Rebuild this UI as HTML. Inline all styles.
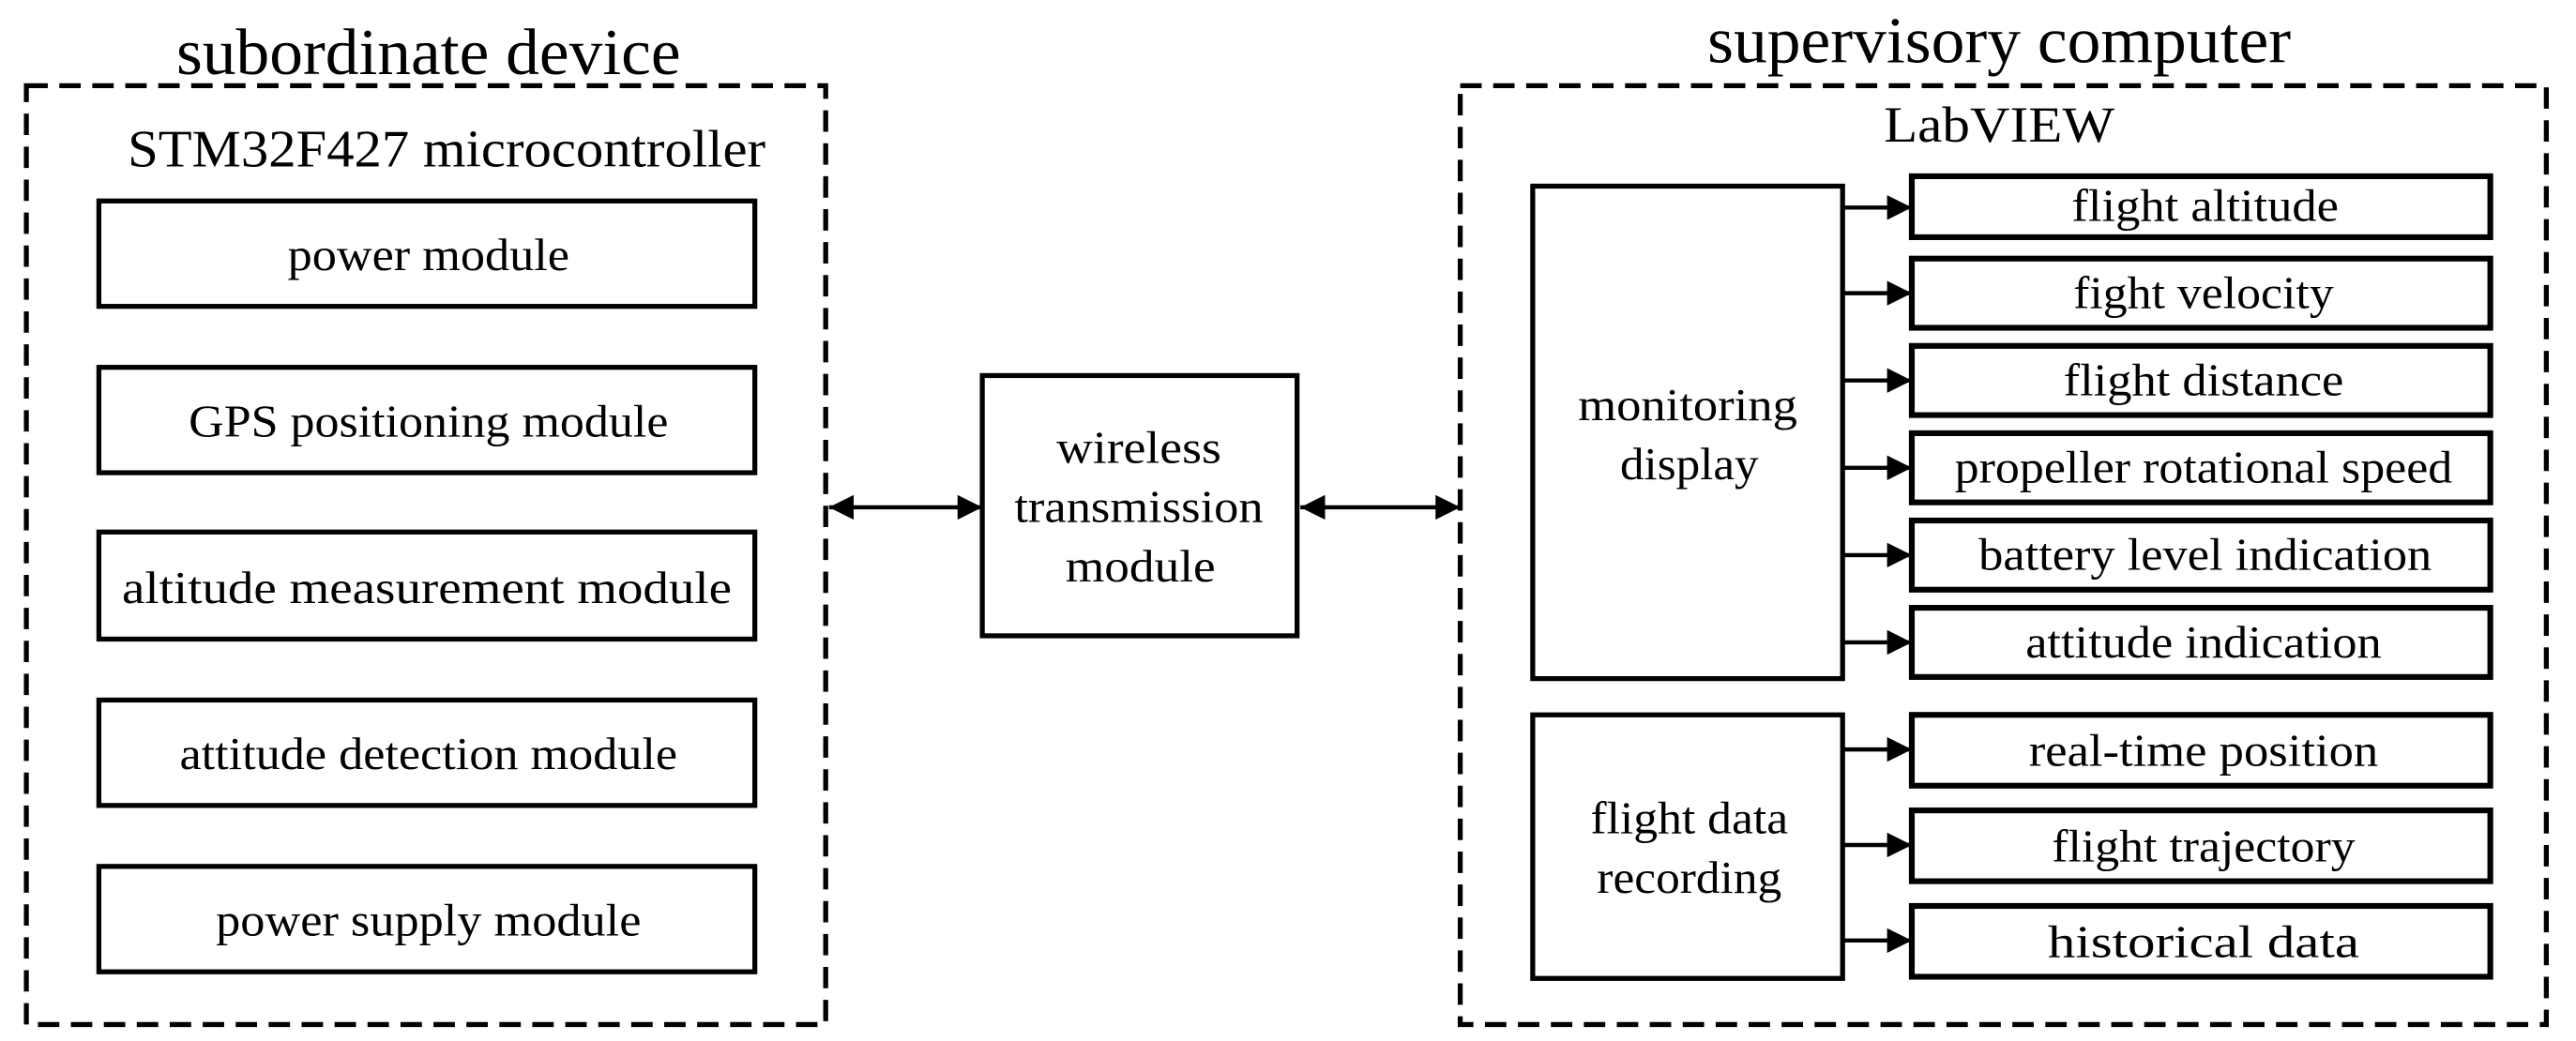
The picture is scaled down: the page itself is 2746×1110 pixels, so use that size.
<!DOCTYPE html>
<html><head><meta charset="utf-8"><style>html,body{margin:0;padding:0;background:#fff}svg{display:block}</style></head>
<body>
<svg width="2746" height="1110" viewBox="0 0 1563 632" preserveAspectRatio="none" xmlns="http://www.w3.org/2000/svg" font-family="Liberation Serif, serif" fill="none" stroke="#000">
<defs>
<marker id="a" markerWidth="6" markerHeight="6" refX="6" refY="3" orient="auto" markerUnits="strokeWidth"><path d="M0,0 L6,3 L0,6 z" fill="#000" stroke="none"/></marker>
<marker id="b" markerWidth="6" markerHeight="6" refX="0" refY="3" orient="auto" markerUnits="strokeWidth"><path d="M6,0 L0,3 L6,6 z" fill="#000" stroke="none"/></marker>
</defs>
<g stroke-width="3" stroke-dasharray="13,7">
<rect x="16" y="52" width="485" height="570"/>
<rect x="886" y="52" width="659" height="570"/>
</g>
<g stroke-width="3">
<rect x="60" y="122" width="398" height="64"/>
<rect x="60" y="223" width="398" height="64"/>
<rect x="60" y="323" width="398" height="65"/>
<rect x="60" y="425" width="398" height="64"/>
<rect x="60" y="526" width="398" height="64"/>
<rect x="596" y="228" width="191" height="158"/>
<rect x="930" y="113" width="188" height="299"/>
<rect x="930" y="434" width="188" height="160"/>
</g>
<g stroke-width="3.5">
<rect x="1160" y="107" width="351" height="37"/>
<rect x="1160" y="157" width="351" height="42"/>
<rect x="1160" y="210" width="351" height="42"/>
<rect x="1160" y="263" width="351" height="42"/>
<rect x="1160" y="316" width="351" height="42"/>
<rect x="1160" y="369" width="351" height="42"/>
<rect x="1160" y="434" width="351" height="43"/>
<rect x="1160" y="492" width="351" height="43"/>
<rect x="1160" y="550" width="351" height="43"/>
</g>
<g stroke-width="2.5" marker-end="url(#a)">
<line x1="503" y1="308" x2="596" y2="308" marker-start="url(#b)"/>
<line x1="789" y1="308" x2="886" y2="308" marker-start="url(#b)"/>
<line x1="1118" y1="126" x2="1160" y2="126"/>
<line x1="1118" y1="178" x2="1160" y2="178"/>
<line x1="1118" y1="231" x2="1160" y2="231"/>
<line x1="1118" y1="284" x2="1160" y2="284"/>
<line x1="1118" y1="337" x2="1160" y2="337"/>
<line x1="1118" y1="390" x2="1160" y2="390"/>
<line x1="1118" y1="455" x2="1160" y2="455"/>
<line x1="1118" y1="513" x2="1160" y2="513"/>
<line x1="1118" y1="571" x2="1160" y2="571"/>
</g>
<g fill="#000" stroke="none" text-anchor="middle">
<text x="260" y="45" font-size="40" textLength="306" lengthAdjust="spacingAndGlyphs">subordinate device</text>
<text x="1213" y="38" font-size="40" textLength="354" lengthAdjust="spacingAndGlyphs">supervisory computer</text>
<text x="271" y="101" font-size="32" textLength="387" lengthAdjust="spacingAndGlyphs">STM32F427 microcontroller</text>
<text x="1213" y="86" font-size="31" textLength="140" lengthAdjust="spacingAndGlyphs">LabVIEW</text>
<g font-size="28">
<text x="260" y="164" textLength="171" lengthAdjust="spacingAndGlyphs">power module</text>
<text x="260" y="265" textLength="291" lengthAdjust="spacingAndGlyphs">GPS positioning module</text>
<text x="259" y="366" textLength="370" lengthAdjust="spacingAndGlyphs">altitude measurement module</text>
<text x="260" y="467" textLength="302" lengthAdjust="spacingAndGlyphs">attitude detection module</text>
<text x="260" y="568" textLength="258" lengthAdjust="spacingAndGlyphs">power supply module</text>
<text x="691" y="281" textLength="100" lengthAdjust="spacingAndGlyphs">wireless</text>
<text x="691" y="317" textLength="151" lengthAdjust="spacingAndGlyphs">transmission</text>
<text x="692" y="353" textLength="91" lengthAdjust="spacingAndGlyphs">module</text>
<text x="1024" y="255" textLength="133" lengthAdjust="spacingAndGlyphs">monitoring</text>
<text x="1025" y="291" textLength="84" lengthAdjust="spacingAndGlyphs">display</text>
<text x="1025" y="506" textLength="120" lengthAdjust="spacingAndGlyphs">flight data</text>
<text x="1025" y="542" textLength="112" lengthAdjust="spacingAndGlyphs">recording</text>
<text x="1338" y="134" textLength="162" lengthAdjust="spacingAndGlyphs">flight altitude</text>
<text x="1337" y="187" textLength="158" lengthAdjust="spacingAndGlyphs">fight velocity</text>
<text x="1337" y="240" textLength="170" lengthAdjust="spacingAndGlyphs">flight distance</text>
<text x="1337" y="293" textLength="302" lengthAdjust="spacingAndGlyphs">propeller rotational speed</text>
<text x="1338" y="346" textLength="275" lengthAdjust="spacingAndGlyphs">battery level indication</text>
<text x="1337" y="399" textLength="216" lengthAdjust="spacingAndGlyphs">attitude indication</text>
<text x="1337" y="465" textLength="212" lengthAdjust="spacingAndGlyphs">real-time position</text>
<text x="1337" y="523" textLength="184" lengthAdjust="spacingAndGlyphs">flight trajectory</text>
<text x="1337" y="581" textLength="189" lengthAdjust="spacingAndGlyphs">historical data</text>
</g>
</g>
</svg>
</body></html>
